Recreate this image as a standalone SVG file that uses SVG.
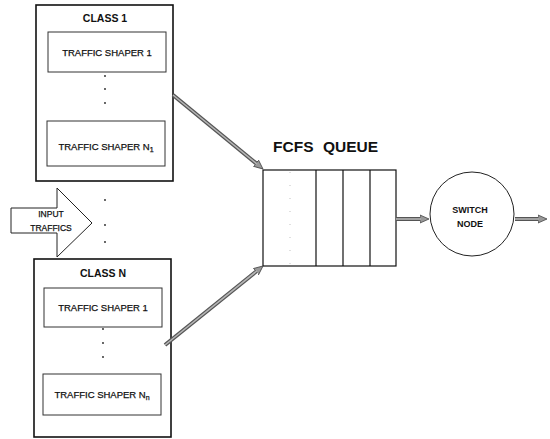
<svg xmlns="http://www.w3.org/2000/svg" width="550" height="439" viewBox="0 0 550 439">
<style>
.cls{fill:none;stroke:#111;stroke-width:1.6}
.shp{fill:none;stroke:#333;stroke-width:1}
.t{font-family:"Liberation Sans",Arial,sans-serif;fill:#111;text-anchor:middle}
.sm{font-size:9.5px;stroke:#111;stroke-width:0.25}
.hd{font-size:10.5px;font-weight:bold}
.big{font-family:"Liberation Sans",Arial,sans-serif;fill:#111;font-size:15.5px;font-weight:bold}
.dot{fill:#222}
.shaft{stroke:#555;stroke-width:4;fill:none}
.shaftIn{stroke:#b5b5b5;stroke-width:1.6;fill:none}
</style>
<defs>
<marker id="ah" markerUnits="userSpaceOnUse" markerWidth="11" markerHeight="10" refX="1" refY="5" orient="auto">
<path d="M0,1 L9,5 L0,9 z" fill="#999" stroke="#444" stroke-width="0.8"/>
</marker>
</defs>
<rect width="550" height="439" fill="#fff"/>

<g id="class1">
<rect class="cls" x="36" y="5" width="137" height="176"/>
<text class="t hd" x="105" y="22">CLASS 1</text>
<rect class="shp" x="48" y="32" width="118" height="40"/>
<text class="t sm" x="107" y="56">TRAFFIC SHAPER 1</text>
<circle class="dot" cx="105" cy="76" r="0.9"/>
<circle class="dot" cx="105" cy="89" r="0.9"/>
<circle class="dot" cx="105" cy="103" r="0.9"/>
<rect class="shp" x="47" y="121" width="118" height="45"/>
<text class="t sm" x="106" y="150">TRAFFIC SHAPER N<tspan font-size="7" dy="1.5">1</tspan></text>
</g>

<g id="middle-dots">
<circle class="dot" cx="105" cy="200" r="0.9"/>
<circle class="dot" cx="105" cy="225" r="0.9"/>
<circle class="dot" cx="105" cy="242" r="0.9"/>
</g>

<g id="input">
<polygon points="11,208 57,208 57,188 92,223 57,257 57,233 11,233" fill="#fff" stroke="#222" stroke-width="1"/>
<text class="t" font-size="8.5" stroke="#111" stroke-width="0.25" x="51" y="217">INPUT</text>
<text class="t" font-size="8.5" stroke="#111" stroke-width="0.25" x="51" y="231">TRAFFICS</text>
</g>

<g id="classN">
<rect class="cls" x="34" y="259" width="137" height="178"/>
<text class="t hd" x="103" y="277">CLASS N</text>
<rect class="shp" x="44" y="288" width="118" height="39"/>
<text class="t sm" x="103" y="311">TRAFFIC SHAPER 1</text>
<circle class="dot" cx="103" cy="329" r="0.9"/>
<circle class="dot" cx="103" cy="343" r="0.9"/>
<circle class="dot" cx="103" cy="357" r="0.9"/>
<rect class="shp" x="43" y="374" width="118" height="41"/>
<text class="t sm" x="102" y="398">TRAFFIC SHAPER N<tspan font-size="7" dy="1.5">n</tspan></text>
</g>

<g id="queue">
<text class="big" x="273" y="152">FCFS<tspan x="323">QUEUE</tspan></text>
<rect x="263" y="170" width="133" height="96" fill="none" stroke="#111" stroke-width="1.2"/>
<line x1="316" y1="170" x2="316" y2="266" stroke="#111" stroke-width="1.2"/>
<line x1="343" y1="170" x2="343" y2="266" stroke="#111" stroke-width="1.2"/>
<line x1="370" y1="170" x2="370" y2="266" stroke="#111" stroke-width="1.2"/>
<line x1="290" y1="172" x2="290" y2="264" stroke="#999" stroke-width="0.6" stroke-dasharray="1,12"/>
</g>

<g id="switch">
<circle cx="472" cy="214" r="42" fill="#fff" stroke="#222" stroke-width="1"/>
<text class="t" font-size="9" font-weight="bold" x="470" y="213">SWITCH</text>
<text class="t" font-size="9" font-weight="bold" x="470" y="227">NODE</text>
</g>

<g id="connectors">
<line class="shaft" x1="173" y1="95" x2="256.8" y2="163.9" marker-end="url(#ah)"/>
<line class="shaftIn" x1="173" y1="95" x2="256.8" y2="163.9"/>
<line class="shaft" x1="165" y1="345" x2="256.8" y2="271" marker-end="url(#ah)"/>
<line class="shaftIn" x1="165" y1="345" x2="256.8" y2="271"/>
<line class="shaft" x1="396" y1="219" x2="421" y2="219" marker-end="url(#ah)"/>
<line class="shaftIn" x1="396" y1="219" x2="421" y2="219"/>
<line class="shaft" x1="515" y1="219" x2="539" y2="219" marker-end="url(#ah)"/>
<line class="shaftIn" x1="515" y1="219" x2="539" y2="219"/>
</g>
</svg>
